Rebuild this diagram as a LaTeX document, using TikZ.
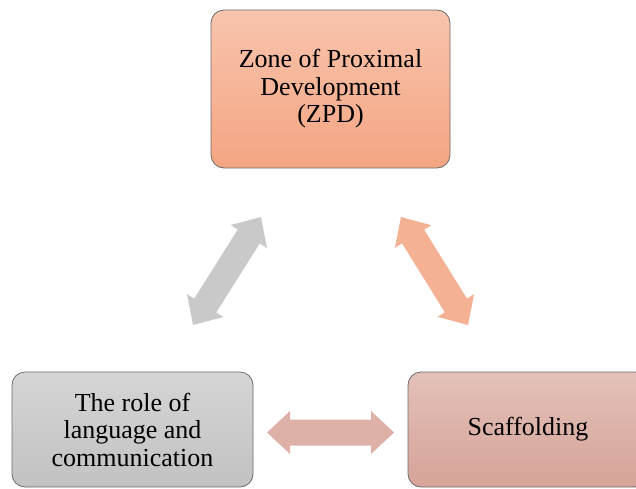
\documentclass[tikz,border=0pt]{standalone}
\usepackage{fontspec}
\setmainfont{Liberation Serif}
\usepackage{tikz}
\usetikzlibrary{positioning, calc}
\definecolor{zpdtop}{HTML}{F8C4AD}
\definecolor{zpdbot}{HTML}{F4A582}
\definecolor{langtop}{HTML}{D5D5D5}
\definecolor{langbot}{HTML}{C2C2C2}
\definecolor{scaftop}{HTML}{E3C1B9}
\definecolor{scafbot}{HTML}{D6A398}
\definecolor{bord}{HTML}{6A6A6A}
\definecolor{grayarr}{HTML}{C9C9C9}
\definecolor{orarr}{HTML}{F5B193}
\definecolor{pinkarr}{HTML}{DDB1A8}
\tikzset{%
	box/.style = {name = #1, rectangle, rounded corners = 13pt, draw = bord, line width = 0.8pt, inner sep = 0pt, align = center, font = \fontsize{26}{27.5}\selectfont},
	dbl/.style = {fill = #1, draw = none}
}
\begin{document}
\begin{tikzpicture}[x=1pt, y=-1pt]
			\useasboundingbox (0,0) rectangle (636,488);
			\node [box = {zpd}, minimum width = 239pt, minimum height = 158pt, top color = zpdtop, bottom color = zpdbot] at (330.5,89) {Zone of Proximal\\Development\\(ZPD)};
			\node [box = {lang}, minimum width = 241pt, minimum height = 115pt, top color = langtop, bottom color = langbot] at (132.5,429.5) {The role of\\language and\\communication};
			\node [box = {scaf}, minimum width = 240pt, minimum height = 115pt, top color = scaftop, bottom color = scafbot] at (528,429.5) {Scaffolding};
			\coordinate (zl) at (261,217);
			\coordinate (lz) at (193,325);
			\coordinate (zs) at (401,217);
			\coordinate (sz) at (468,325);
			\coordinate (ls) at (267,432.5);
			\coordinate (sl) at (394,432.5);
			% block arrows, tip to tip
			\path [dbl = grayarr] let \p1 = (lz), \p2 = (zl), \n1 = {atan2(\y2-\y1,\x2-\x1)}, \n2 = {veclen(\x2-\x1,\y2-\y1)} in
				[shift = {(\p1)}, rotate = \n1] (0,0) -- (23,21.5) -- (23,13) -- ({\n2-23},13) -- ({\n2-23},21.5) -- (\n2,0) -- ({\n2-23},-21.5) -- ({\n2-23},-13) -- (23,-13) -- (23,-21.5) -- cycle;
			\path [dbl = orarr] let \p1 = (zs), \p2 = (sz), \n1 = {atan2(\y2-\y1,\x2-\x1)}, \n2 = {veclen(\x2-\x1,\y2-\y1)} in
				[shift = {(\p1)}, rotate = \n1] (0,0) -- (23,21.5) -- (23,13) -- ({\n2-23},13) -- ({\n2-23},21.5) -- (\n2,0) -- ({\n2-23},-21.5) -- ({\n2-23},-13) -- (23,-13) -- (23,-21.5) -- cycle;
			\path [dbl = pinkarr] let \p1 = (ls), \p2 = (sl), \n1 = {atan2(\y2-\y1,\x2-\x1)}, \n2 = {veclen(\x2-\x1,\y2-\y1)} in
				[shift = {(\p1)}, rotate = \n1] (0,0) -- (23,21.5) -- (23,13) -- ({\n2-23},13) -- ({\n2-23},21.5) -- (\n2,0) -- ({\n2-23},-21.5) -- ({\n2-23},-13) -- (23,-13) -- (23,-21.5) -- cycle;
			\end{tikzpicture}
\end{document}
